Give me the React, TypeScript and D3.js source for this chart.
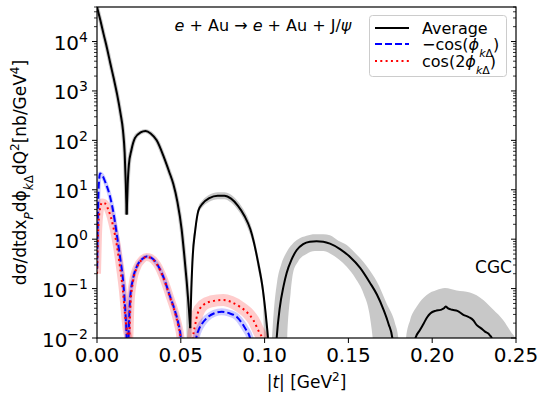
import React from "react";
import * as d3 from "d3";

// |t| in GeV^2 ; values given as log10 of dσ/... [nb/GeV^4]; null separates lobes
const avgT = [
  0, 0.002, 0.004, 0.006, 0.008, 0.010, 0.012, 0.014, 0.0155, 0.0165, 0.0172, 0.0177, null,
  0.0177, 0.0183, 0.019, 0.0205, 0.0227, 0.026, 0.029, 0.032, 0.0356, 0.040, 0.043, 0.0455, 0.048, 0.0505, 0.052, 0.0535, 0.0548, 0.0556, null,
  0.0556, 0.0563, 0.0572, 0.0585, 0.0605, 0.063, 0.067, 0.072, 0.076, 0.080, 0.084, 0.088, 0.0915, 0.0933, 0.096, 0.099, 0.1015, 0.1035, null,
  0.1055, 0.1072, 0.109, 0.1113, 0.1132, 0.116, 0.1192, 0.123, 0.127, 0.131, 0.135, 0.139, 0.145, 0.151, 0.157, 0.163, 0.167, 0.171, 0.174, 0.1762, 0.1775, null,
  0.1885, 0.190, 0.1925, 0.195, 0.197, 0.199, 0.202, 0.205, 0.207, 0.208, 0.2095, 0.212, 0.215, 0.2186, 0.222, 0.2245, 0.2266, 0.229, 0.2315, 0.2335, 0.2345, 0.2355, 0.2362,
];
const avgExp = [
  4.70, 4.43, 4.14, 3.86, 3.55, 3.25, 2.93, 2.55, 2.2, 1.75, 1.1, 0.5, null,
  0.5, 1.1, 1.5, 1.8, 2.05, 2.16, 2.19, 2.14, 2.0, 1.65, 1.37, 1.12, 0.75, 0.2, -0.3, -0.85, -1.4, -1.8, null,
  -1.8, -1.0, -0.3, 0.15, 0.58, 0.72, 0.83, 0.88, 0.88, 0.82, 0.68, 0.47, 0.2, -0.02, -0.45, -1.03, -1.8, -2.6, null,
  -3, -2, -1.4, -0.95, -0.68, -0.42, -0.22, -0.1, -0.05, -0.04, -0.05, -0.09, -0.2, -0.36, -0.58, -0.89, -1.12, -1.43, -1.72, -2.0, -2.5, null,
  -2.6, -2.0, -1.85, -1.70, -1.58, -1.5, -1.45, -1.43, -1.40, -1.36, -1.40, -1.43, -1.45, -1.53, -1.58, -1.64, -1.74, -1.8, -1.87, -1.91, -1.95, -2.0, -2.1,
];

// uncertainty band of the average (log10 upper / lower)
const bandT = [
  0.0530, 0.0545, 0.0553, 0.0560, 0.0570, 0.0585, 0.0605, 0.063, 0.067, 0.072, 0.076, 0.080, 0.084, 0.088, 0.0915, 0.0935, 0.096, 0.099, 0.1005, 0.102, 0.104, null,
  0.1025, 0.1040, 0.1055, 0.1075, 0.110, 0.1125, 0.1135, 0.1155, 0.117, 0.120, 0.125, 0.130, 0.135, 0.139, 0.144, 0.149, 0.154, 0.159, 0.1625, 0.1645, 0.167, 0.1728, 0.1778, 0.1798, 0.1810, null,
  0.1830, 0.1844, 0.1868, 0.1907, 0.1967, 0.2027, 0.2076, 0.2146, 0.2225, 0.2305, 0.2365, 0.2424, 0.2474, 0.2494, 0.2500,
];
const bandHiExp = [
  -0.4, -0.95, -1.3, -0.7, -0.1, 0.28, 0.66, 0.79, 0.9, 0.95, 0.95, 0.9, 0.77, 0.57, 0.31, 0.08, -0.32, -0.88, -1.3, -1.8, -2.3, null,
  -3, -2.2, -1.45, -0.85, -0.5, -0.3, -0.24, -0.14, -0.08, 0.0, 0.07, 0.10, 0.10, 0.08, -0.03, -0.12, -0.28, -0.46, -0.62, -0.72, -0.86, -1.30, -1.70, -2.0, -3, null,
  -3, -2.0, -1.64, -1.37, -1.13, -1.03, -0.99, -1.04, -1.08, -1.23, -1.43, -1.64, -1.9, -2.0, -2.2,
];
const bandLoExp = [
  -1.1, -3, -3, -3, -0.6, 0.0, 0.5, 0.65, 0.76, 0.81, 0.81, 0.74, 0.59, 0.37, 0.08, -0.14, -0.6, -1.25, -3, -3, -3, null,
  -3, -3, -3, -3, -3, -3, -2.0, -1.1, -0.68, -0.45, -0.3, -0.24, -0.24, -0.29, -0.4, -0.56, -0.78, -1.1, -1.5, -2.0, -3, -3, -3, -3, -3, null,
  -3, -3, -3, -3, -3, -3, -3, -3, -3, -3, -3, -3, -3, -3, -3,
];

const blueT = [
  0, 0.0005, 0.001, 0.0018, 0.003, 0.005, 0.0078, 0.010, 0.0117, 0.0137, 0.0157, 0.0168, 0.0177, 0.0182, null,
  0.0180, 0.0188, 0.0197, 0.0215, 0.0237, 0.027, 0.0296, 0.032, 0.0356, 0.040, 0.0436, 0.0465, 0.0485, 0.0500, 0.0508, null,
  0.0585, 0.0594, 0.0605, 0.0625, 0.0654, 0.070, 0.0744, 0.079, 0.0833, 0.0865, 0.0883, 0.0913, 0.0925,
];
const blueExp = [
  -0.6, 0.4, 1.05, 1.33, 1.3, 1.15, 0.86, 0.5, 0.12, -0.35, -0.89, -1.4, -2.0, -2.6, null,
  -3, -2, -1.23, -0.8, -0.56, -0.40, -0.35, -0.37, -0.49, -0.8, -1.16, -1.45, -1.7, -2.0, -2.6, null,
  -2.3, -1.97, -1.85, -1.72, -1.6, -1.5, -1.47, -1.5, -1.57, -1.7, -1.8, -2.0, -2.5,
];

const redT = [
  0, 0.0006, 0.0015, 0.003, 0.0045, 0.0065, 0.0097, 0.0117, 0.0137, 0.0155, 0.0167, 0.0178, 0.0187, 0.0192, null,
  0.0185, 0.0193, 0.0200, 0.0215, 0.0237, 0.027, 0.0296, 0.032, 0.0356, 0.040, 0.0436, 0.0465, 0.0485, 0.0498, 0.0505, null,
  0.0565, 0.0573, 0.0585, 0.0601, 0.0635, 0.068, 0.0754, 0.080, 0.0853, 0.0895, 0.0933, 0.097, 0.0985, 0.0995,
];
const redExp = [
  -0.7, 0.1, 0.55, 0.74, 0.73, 0.62, 0.25, -0.1, -0.56, -1.05, -1.5, -1.85, -2.0, -2.5, null,
  -3, -2, -1.3, -0.85, -0.58, -0.41, -0.36, -0.38, -0.5, -0.82, -1.18, -1.48, -1.75, -2.0, -2.6, null,
  -3, -2, -1.75, -1.5, -1.33, -1.26, -1.23, -1.27, -1.37, -1.48, -1.64, -1.9, -2.0, -2.5,
];

const xTicks = [0, 0.05, 0.1, 0.15, 0.2, 0.25];
const xTickLabels = ["0.00", "0.05", "0.10", "0.15", "0.20", "0.25"];
const yTickExps = [-2, -1, 0, 1, 2, 3, 4];
const legendLabels = ["Average", "−cos", "cos(2"];

const FONT = "DejaVu Sans, Verdana, sans-serif";

type P = [number, number];
type B = [number, number, number];

function segments(ts: (number | null)[], es: (number | null)[]): P[][] {
  const out: P[][] = [];
  let cur: P[] = [];
  ts.forEach((t, i) => {
    const e = es[i];
    if (t == null || e == null) {
      if (cur.length) out.push(cur);
      cur = [];
    } else cur.push([t, Math.pow(10, e)]);
  });
  if (cur.length) out.push(cur);
  return out;
}
function bandSegments(ts: (number | null)[], hi: (number | null)[], lo: (number | null)[]): B[][] {
  const out: B[][] = [];
  let cur: B[] = [];
  ts.forEach((t, i) => {
    if (t == null || hi[i] == null) {
      if (cur.length) out.push(cur);
      cur = [];
    } else cur.push([t, Math.pow(10, hi[i] as number), Math.pow(10, lo[i] as number)]);
  });
  if (cur.length) out.push(cur);
  return out;
}

export default function App() {
  const L = 97, R = 516, T = 7, Bt = 338;
  const x = d3.scaleLinear().domain([0, 0.25]).range([L, R]);
  const y = d3.scaleLog().domain([1e-2, 5e4]).range([Bt, T]);
  const line = d3.line<P>().x((d) => x(d[0])).y((d) => y(d[1])).curve(d3.curveMonotoneX);
  const area = d3
    .area<B>()
    .x((d) => x(d[0]))
    .y0((d) => y(d[2]))
    .y1((d) => y(d[1]))
    .curve(d3.curveMonotoneX);

  const avg = segments(avgT, avgExp);
  const band = bandSegments(bandT, bandHiExp, bandLoExp);
  const blue = segments(blueT, blueExp);
  const red = segments(redT, redExp);

  const minor: number[] = [];
  yTickExps.forEach((e) => {
    for (let m = 2; m <= 9; m++) {
      const v = m * Math.pow(10, e);
      if (v <= 5e4) minor.push(v);
    }
  });

  const gray = "#c8c8c8";
  const blueHalo = [4, 4, 7];
  const redHalo = [8, 8, 12];

  return (
    <svg
      width={542}
      height={394}
      style={{ position: "absolute", left: 0, top: 0, display: "block", background: "#fff" }}
      fontFamily={FONT}
    >
      <defs>
        <clipPath id="plotclip">
          <rect x={L} y={T} width={R - L} height={Bt - T} />
        </clipPath>
      </defs>
      <rect x={0} y={0} width={542} height={394} fill="#fff" />
      <g clipPath="url(#plotclip)">
        {band.map((s, i) => (
          <path key={"b" + i} d={area(s) || ""} fill={gray} stroke="none" />
        ))}
        {avg.slice(0, 2).map((s, i) => (
          <path key={"ah" + i} d={line(s) || ""} fill="none" stroke={gray} strokeWidth={4} />
        ))}
        {red.map((s, i) => (
          <path key={"rh" + i} d={line(s) || ""} fill="none" stroke="rgba(255,0,0,0.2)" strokeWidth={redHalo[i]} />
        ))}
        {blue.map((s, i) => (
          <path key={"bh" + i} d={line(s) || ""} fill="none" stroke="rgba(0,0,255,0.2)" strokeWidth={blueHalo[i]} />
        ))}
        {avg.map((s, i) => (
          <path key={"a" + i} d={line(s) || ""} fill="none" stroke="#000" strokeWidth={2} />
        ))}
        {blue.map((s, i) => (
          <path key={"bl" + i} d={line(s) || ""} fill="none" stroke="#0000ff" strokeWidth={2} strokeDasharray="7,3" />
        ))}
        {red.map((s, i) => (
          <path key={"rl" + i} d={line(s) || ""} fill="none" stroke="#ff0000" strokeWidth={2} strokeDasharray="2,3.3" />
        ))}
      </g>

      {/* frame */}
      <rect x={L} y={T} width={R - L} height={Bt - T} fill="none" stroke="#000" strokeWidth={1.2} />

      {/* x ticks */}
      {xTicks.map((t, i) => (
        <g key={"xt" + i}>
          <line x1={x(t)} x2={x(t)} y1={Bt} y2={Bt + 5} stroke="#000" strokeWidth={1} />
          <text x={x(t)} y={362} textAnchor="middle" fontSize={20}>
            {xTickLabels[i]}
          </text>
        </g>
      ))}

      {/* y ticks */}
      {yTickExps.map((e) => {
        const yy = y(Math.pow(10, e));
        return (
          <g key={"yt" + e}>
            <line x1={L - 5} x2={L} y1={yy} y2={yy} stroke="#000" strokeWidth={1} />
            <line x1={R - 5} x2={R} y1={yy} y2={yy} stroke="#000" strokeWidth={1} />
            <text x={88} y={yy + 8.5} textAnchor="end" fontSize={20}>
              10
              <tspan dy={-8} fontSize={14}>
                {e < 0 ? "−" + -e : String(e)}
              </tspan>
            </text>
          </g>
        );
      })}
      {minor.map((v, i) => {
        const yy = y(v);
        return (
          <g key={"ym" + i}>
            <line x1={L - 3} x2={L} y1={yy} y2={yy} stroke="#000" strokeWidth={0.8} />
            <line x1={R - 3} x2={R} y1={yy} y2={yy} stroke="#000" strokeWidth={0.8} />
          </g>
        );
      })}

      {/* axis labels */}
      <text x={(L + R) / 2} y={388} textAnchor="middle" fontSize={17}>
        |<tspan fontStyle="italic">t</tspan>| [GeV<tspan baselineShift="super" fontSize={12}>2</tspan>]
      </text>
      <text transform={`translate(26,${(T + Bt) / 2}) rotate(-90)`} textAnchor="middle" fontSize={17}>
        dσ/dtdx<tspan baselineShift="sub" fontSize={12} fontStyle="italic">P</tspan>
        dϕ<tspan baselineShift="sub" fontSize={12}><tspan fontStyle="italic">k</tspan>Δ</tspan>
        dQ<tspan baselineShift="super" fontSize={12}>2</tspan>[nb/GeV<tspan baselineShift="super" fontSize={12}>4</tspan>]
      </text>

      {/* title */}
      <text x={263} y={31} textAnchor="middle" fontSize={16}>
        <tspan fontStyle="italic">e</tspan> + Au → <tspan fontStyle="italic">e</tspan> + Au + J/<tspan fontStyle="italic">ψ</tspan>
      </text>

      <text x={512} y={273} textAnchor="end" fontSize={17}>
        CGC
      </text>

      {/* legend */}
      <rect x={369.5} y={15.5} width={137} height={61} rx={3} fill="rgba(255,255,255,0.8)" stroke="#cccccc" strokeWidth={1} />
      <line x1={375} x2={409} y1={28} y2={28} stroke="#000" strokeWidth={2} />
      <line x1={375} x2={409} y1={44} y2={44} stroke="#0000ff" strokeWidth={2} strokeDasharray="7,3" />
      <line x1={375} x2={409} y1={61} y2={61} stroke="#ff0000" strokeWidth={2} strokeDasharray="2,3.3" />
      <text x={422} y={34} fontSize={16}>{legendLabels[0]}</text>
      <text x={422} y={50} fontSize={16}>
        {legendLabels[1]}(<tspan fontStyle="italic">ϕ</tspan>
        <tspan baselineShift="sub" fontSize={11}><tspan fontStyle="italic">k</tspan>Δ</tspan>)
      </text>
      <text x={422} y={67} fontSize={16}>
        {legendLabels[2]}<tspan fontStyle="italic">ϕ</tspan>
        <tspan baselineShift="sub" fontSize={11}><tspan fontStyle="italic">k</tspan>Δ</tspan>)
      </text>
    </svg>
  );
}
